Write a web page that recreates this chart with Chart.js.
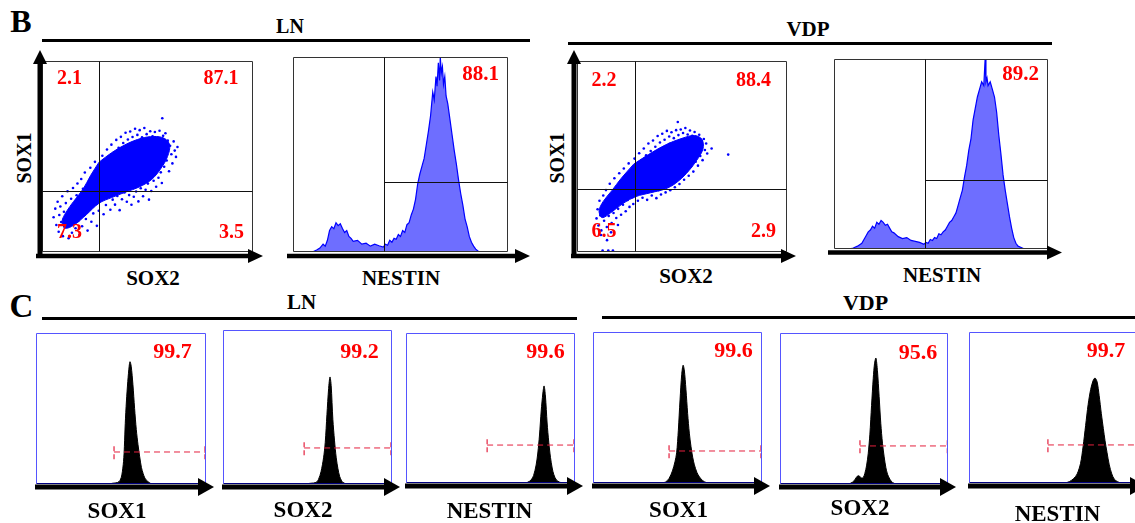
<!DOCTYPE html>
<html>
<head>
<meta charset="utf-8">
<title>SOX1 / SOX2 / NESTIN flow cytometry</title>
<script src="https://cdn.jsdelivr.net/npm/chart.js@4.4.1/dist/chart.umd.min.js"></script>
<style>
  body { margin: 0; width: 1135px; height: 523px; overflow: hidden; background: #fff; position: relative;
         font-family: "Liberation Serif", "Times New Roman", serif; }
  canvas { position: absolute; }
  .t { position: absolute; font-weight: bold; color: #000; transform: translate(-50%, -50%); white-space: nowrap; line-height: 1; }
  .v { transform: translate(-50%, -50%) rotate(-90deg); }
  .rule { position: absolute; height: 3px; background: #000; }
</style>
</head>
<body>
<div class="t" style="left:21px;top:21px;font-size:32px">B</div>
<div class="t" style="left:290px;top:25.5px;font-size:20px">LN</div>
<div class="t" style="left:808px;top:28.5px;font-size:21px">VDP</div>
<div class="rule" style="left:42px;top:39px;width:488px"></div>
<div class="rule" style="left:568px;top:41.5px;width:484px"></div>
<div class="t v" style="left:24px;top:158px;font-size:20px">SOX1</div>
<div class="t" style="left:153px;top:277.5px;font-size:21px">SOX2</div>
<div class="t" style="left:401px;top:277.5px;font-size:21px">NESTIN</div>
<div class="t v" style="left:556.5px;top:157.5px;font-size:20px">SOX1</div>
<div class="t" style="left:686px;top:276px;font-size:21px">SOX2</div>
<div class="t" style="left:942px;top:274.5px;font-size:21px">NESTIN</div>
<div class="t" style="left:21.5px;top:306px;font-size:33px">C</div>
<div class="t" style="left:301.5px;top:302px;font-size:21px">LN</div>
<div class="t" style="left:865.5px;top:302.5px;font-size:22px">VDP</div>
<div class="rule" style="left:42px;top:316.5px;width:535px"></div>
<div class="rule" style="left:602px;top:315.5px;width:533px"></div>

<script>
// ---------- data (display units 0-100 on both axes of every plot) ----------

// quadrant percentages, order: UL, UR, LL, LR
var lnQuad = ['2.1', '87.1', '7.3', '3.5'];
var vdpQuad = ['2.2', '88.4', '6.5', '2.9'];
var lnNestinPct = '88.1';
var vdpNestinPct = '89.2';

// SOX2 (x) vs SOX1 (y) dot plots: outline of the dense core, then loose events
var lnCore = [[27,47],[33,52],[40,56.5],[47,59.5],[53,60.5],[58,59.5],[60.5,56],[59.5,50],[56.5,44],[52,38],
              [46,34],[40,31.5],[33,28.5],[27,25.5],[21,19.5],[15,14],[11,12.5],[9.5,16],[11.5,21],[15,26.5],
              [19.5,33],[23,40]];
var lnDots = [
  [5.5,18.2],[6.3,22.7],[6.8,14.1],[7.4,26.3],[7.9,10.6],[8.2,19.4],[8.7,23.8],[9.1,15.7],[9.6,29.2],[9.9,8.3],
  [10.4,21.1],[10.8,12.9],[11.3,25.6],[11.7,17.4],[12.1,31.8],[12.6,7.2],[12.9,20.3],[13.4,14.6],[13.8,27.9],
  [14.2,10.1],[14.7,33.5],[15.1,18.8],[15.5,23.1],[15.9,12.4],[16.4,29.7],[16.8,35.9],[17.2,16.2],[17.7,8.9],
  [18.1,26.4],[18.6,38.2],[19.0,13.5],[19.4,33.1],[19.9,21.7],[20.3,41.6],[20.8,17.3],[21.2,28.8],[21.6,11.2],
  [22.1,36.4],[22.5,23.9],[22.9,44.1],[23.4,15.8],[23.8,31.5],[24.3,20.2],[24.7,39.6],[25.1,47.2],[25.6,25.4],
  [26.0,13.7],[26.5,34.8],[26.9,21.6],[27.3,43.2],
  [28.1,27.3],[28.6,50.4],[29.2,19.8],[29.7,46.1],[30.3,24.6],[30.8,53.7],[31.2,29.9],[31.9,48.8],[32.4,22.1],
  [32.9,56.2],[33.5,27.4],[34.1,51.9],[34.6,24.8],[35.2,58.7],[35.7,29.3],[36.3,54.6],[36.8,21.9],[37.4,60.3],
  [37.9,27.6],[38.5,57.1],[39.1,31.2],[39.6,62.4],[40.2,26.3],[40.7,58.9],[41.3,29.8],[41.8,63.1],[42.4,24.7],
  [42.9,60.2],[43.5,28.9],[44.1,64.5],[44.6,31.7],[45.2,61.3],[45.7,26.5],[46.3,63.8],[46.8,33.4],[47.4,60.1],
  [47.9,29.2],[48.5,64.9],[49.1,32.6],[49.6,61.7],[50.2,35.8],[50.7,27.4],[51.3,63.2],[51.8,31.9],[52.4,60.6],
  [52.9,37.3],[53.5,62.8],[54.1,34.2],[54.6,59.4],[55.2,38.9],[55.7,63.5],[56.3,41.7],[56.8,36.1],[57.4,60.8],
  [57.9,44.6],[58.5,62.2],[59.1,47.9],[59.6,58.3],[60.2,42.3],[60.7,55.6],[61.3,51.2],[61.8,46.4],[62.4,57.9],
  [62.9,53.1],[63.5,49.8],[57.0,70.0],[64.2,55.0],
  [30.5,35.2],[33.2,39.8],[36.1,33.9],[38.8,45.3],[41.5,37.4],[44.3,50.1],[47.2,41.8],[50.6,47.3],[53.4,52.6],
  [56.1,55.2],[25.3,31.9],[22.6,27.1],[19.8,24.3],[17.1,20.6],[14.5,17.9],[31.7,42.6],[35.4,47.8],[39.3,52.4],
  [43.8,56.3],[48.1,58.7],[52.7,45.1],[46.4,38.2],[41.2,33.1],[36.6,31.4],[30.1,31.2]];

var vdpCore = [[27,46],[34,51],[42,56],[50,59.5],[56,61],[59.5,59],[60,54],[57,48],[52,41],[47,36],[42,33],
               [35,31],[28,29],[22,25.5],[16,20.5],[12,18],[10.5,21.5],[12.5,26.5],[16.5,32],[21,38.5]];
var vdpDots = [
  [9.3,17.6],[9.8,22.4],[10.2,13.9],[10.7,26.8],[11.1,19.2],[11.6,11.3],[12.0,24.1],[12.5,29.6],[12.9,16.4],
  [13.3,21.7],[13.8,32.4],[14.2,13.1],[14.7,26.2],[15.1,18.9],[15.6,35.7],[16.0,23.3],[16.5,15.2],[16.9,30.1],
  [17.4,20.4],[17.8,38.6],[18.3,26.9],[18.7,17.8],[19.2,33.7],[19.6,22.6],[20.1,41.2],[20.5,29.4],[21.0,19.5],
  [21.4,36.3],[21.9,24.8],[22.3,43.7],[22.8,31.6],[23.2,21.3],[23.7,39.1],[24.1,27.2],[24.6,46.4],[25.0,23.6],
  [25.5,35.4],[25.9,42.8],[26.4,28.7],[26.8,25.1],[12.2,0.8],[14.9,0.8],[17.1,0.8],[14.3,6.2],[11.4,8.9],
  [16.2,10.3],[19.5,14.1],
  [27.4,48.9],[27.9,30.2],[28.5,45.1],[29.0,26.8],[29.6,51.7],[30.1,33.5],[30.7,47.9],[31.2,28.4],[31.8,54.2],
  [32.3,31.1],[32.9,50.6],[33.4,27.3],[34.0,56.8],[34.5,32.7],[35.1,52.9],[35.6,29.6],[36.2,58.4],[36.7,33.8],
  [37.3,55.1],[37.8,28.2],[38.4,60.7],[38.9,32.4],[39.5,57.3],[40.0,30.1],[40.6,61.9],[41.1,34.6],[41.7,58.8],
  [42.2,31.2],[42.8,63.4],[43.3,35.7],[43.9,60.5],[44.4,32.3],[45.0,62.7],[45.5,37.1],[46.1,59.6],[46.6,33.9],
  [47.2,63.8],[47.7,38.4],[48.3,61.2],[48.0,68.1],[48.8,35.6],[49.4,64.1],[49.9,40.2],[50.5,62.3],[51.0,37.8],
  [51.6,64.9],[52.1,42.6],[52.7,61.5],[53.2,39.9],[53.8,63.6],[54.3,44.8],[54.9,60.9],[55.4,42.1],[56.0,62.8],
  [56.5,47.3],[57.1,59.7],[57.6,45.2],[58.2,61.4],[58.7,50.3],[59.3,57.6],[59.8,48.1],[60.4,59.2],[60.9,53.4],
  [61.5,56.8],[62.0,51.6],[64.1,54.2],[72.0,51.0],
  [30.4,36.8],[33.6,40.3],[36.3,37.2],[39.1,46.4],[42.0,39.5],[44.7,50.7],[47.6,44.1],[50.8,49.2],[53.6,53.8],
  [56.2,56.4],[24.8,32.6],[21.7,29.3],[18.9,26.1],[16.4,22.8],[31.8,43.9],[35.7,48.2],[39.6,52.9],[44.1,56.7],
  [48.5,58.2],[52.4,46.8],[46.2,40.3],[41.3,35.2],[37.2,33.6],[29.4,32.8]];

// NESTIN histograms (blue)
var lnNestinX = [9,11,12.5,14,15,16,17,18,19,20,21,22,23,24,25,26,27,28,30,32,34,36,38,40,42,43,44,45,46,47,
  48,49,50,51,52,53,54,55,56,57,58,59,60,61,62,63,64,65,65.7,66.5,67,67.6,68.2,68.5,69,69.5,70,70.6,71.2,72,
  73,74,75,76,77,78,79,80,81,82,83,84,85,86,87];
var lnNestinY = [0,1,2,4,3,6,11,13,12,15,13.5,14.5,12,10,11,8,7,5.5,6,4,4.5,3,4,3.2,2.5,4,3.5,6,5,7,
  6.5,9,8,11,10,14,15,19,22,27,35,40,44,48,55,62,70,82,78,90,85,97,88,100,92,95,86,90,80,76,
  68,60,52,45,37,30,24,17,13,8,5,3,1.5,0.5,0];
var vdpNestinX = [7,9,11,13,14,15,16,17,18,19,20,21,22,23,24,25,26,27,28,30,32,34,36,38,40,42,43,44,45,46,
  47,48,49,50,51,52,53,54,55,56,57,58,59,60,61,62,63,64,65,66,67,68,69,70,70.6,71,71.5,72,73,74,
  75,76,77,78,79,80,81,82,83,84,85,86,88,89];
var vdpNestinY = [0,0.5,1.5,3,5,7,9,10,12,11,14,13,15,14,12.5,13,11,9,8.5,6.5,5.5,6,4.5,4,3.5,2.5,3.5,3,5,4.5,
  6,5.5,8,7.5,9,10,12,14,15,17,19,23,27,31,38,44,52,58,68,74,80,84,88,86,99.5,88,90,86,88,84,
  80,72,60,50,39,31,24,17,11,6,3,1.5,0.5,0];

// panel C single-marker histograms (black): LN SOX1, SOX2, NESTIN, VDP SOX1, SOX2, NESTIN
var cMarkers = ['SOX1', 'SOX2', 'NESTIN', 'SOX1', 'SOX2', 'NESTIN'];
var cPct = ['99.7', '99.2', '99.6', '99.6', '95.6', '99.7'];
var cX = [
  [43,45,48,49.5,50.5,51.5,52,52.5,53.2,54,54.8,55.3,56,57,58,59,60,61,62,63,64,65,66.5,68],
  [48,52,55,56.5,58,59.5,60.5,61.5,62.5,63.3,64,65,66,67,68,69,70,71,73],
  [70,72,74,75.5,77,78,79,80,81,81.7,82.5,83.5,84.5,85.5,86.5,87.5,89,91,93],
  [41,43,45,47,48.5,49.5,50.5,51.5,52.5,53.3,54,55,56,57,58,59,60,61.5,63,65,67,69],
  [40,42,44,45.5,46.5,47.5,48.5,49.5,50.5,51.5,52.5,53.5,54.5,55.5,56.3,57.1,58,59,60,61,62,63,64,65.5,67,69],
  [57,59.5,62,64,66,67.5,69,70.5,72,73.5,74.6,75.8,77,78.3,79.5,80.5,81.7,83,84.5,86,88,90]
];
var cY = [
  [0,0.5,1,2.5,6,15,25,40,55,68,78,81,78,66,50,36,26,18,11,7,4,2.5,1,0],
  [0,0.5,1,3,8,17,27,45,62,69.5,64,42,28,17,10,5,2.5,1,0],
  [0,0.5,2,5,12,20,32,48,60,64.7,58,40,27,17,10,5.5,2,0.5,0],
  [0,0.7,3,8,14,20,35,55,72,78,75,62,46,33,24,17,12,7,4,1.5,0.3,0],
  [0,0.5,2,4.5,5.5,5,4,4.2,7,12,20,33,52,70,80,83.4,75,58,40,27,18,11,6.5,3,1,0],
  [0,1,3,6,13,24,38,52,62,68,69.5,67,58,46,36,28,20,12,6,2.5,0.8,0]
];
// positive gates (dashed red markers)
var cGateY = [21.2, 23.4, 25.3, 21.2, 25.2, 25.2];
var cGateFrom = [45.9, 48, 48, 45, 47.6, 46.7];
var cGateTo = [99.4, 99.4, 99.4, 99.4, 99.6, 115];

// ---------- layout ----------
var PAD = {l: 15, t: 15, r: 30, b: 14};
var boxB = [
  {l: 42, t: 61, w: 211, h: 191},
  {l: 293, t: 57, w: 215, h: 195},
  {l: 577, t: 61, w: 210, h: 191},
  {l: 834, t: 59, w: 214, h: 190}
];
var boxC = [
  {l: 36, t: 333, w: 170, h: 151},
  {l: 223, t: 330, w: 169, h: 154},
  {l: 406, t: 333, w: 169, h: 150},
  {l: 593, t: 332, w: 169, h: 151},
  {l: 780, t: 333, w: 168, h: 151},
  {l: 969, t: 332, w: 169, h: 151}
];
var cPctPos = [[136.5,19.5],[136.5,22.5],[139.5,19.5],[140.5,19],[138,20.5],[137,19.5]];
var cLabelPos = [[117,509.5],[303,508.5],[489.5,510],[678.5,508.5],[860,506.5],[1057.5,512.5]];

var decorFor = new Map();

function pts(xs, ys) {
  return xs.map(function (x, i) { return {x: x, y: ys[i]}; });
}
function pairs(list) {
  return list.map(function (p) { return {x: p[0], y: p[1]}; });
}

function arrow(ctx, x0, y0, x1, y1, lw, head, half) {
  var dx = x1 - x0, dy = y1 - y0, len = Math.hypot(dx, dy), ux = dx / len, uy = dy / len;
  var bx = x1 - ux * head, by = y1 - uy * head;
  ctx.lineWidth = lw;
  ctx.strokeStyle = '#000';
  ctx.fillStyle = '#000';
  ctx.beginPath(); ctx.moveTo(x0, y0); ctx.lineTo(bx + ux, by + uy); ctx.stroke();
  ctx.beginPath();
  ctx.moveTo(x1, y1);
  ctx.lineTo(bx - uy * half, by + ux * half);
  ctx.lineTo(bx + uy * half, by - ux * half);
  ctx.closePath(); ctx.fill();
}

var decor = {
  id: 'decor',
  afterDatasetsDraw: function (chart) {
    var o = decorFor.get(chart.canvas);
    if (!o) return;
    var ctx = chart.ctx, a = chart.chartArea, sx = chart.scales.x, sy = chart.scales.y;
    var L = Math.round(a.left) + 0.5, T = Math.round(a.top) + 0.5;
    var R = Math.round(a.right) - 0.5, B = Math.round(a.bottom) - 0.5;
    ctx.save();
    ctx.lineWidth = 1;
    ctx.strokeStyle = o.frame;
    ctx.beginPath();
    ctx.moveTo(L, B); ctx.lineTo(L, T); ctx.lineTo(R, T); ctx.lineTo(R, B);
    ctx.stroke();
    ctx.strokeStyle = o.frameBottom || o.frame;
    ctx.beginPath(); ctx.moveTo(L, B); ctx.lineTo(R, B); ctx.stroke();

    ctx.strokeStyle = '#111';
    if (o.quad) {
      var qx = Math.round(sx.getPixelForValue(o.quad[0])) + 0.5;
      var qy = Math.round(sy.getPixelForValue(o.quad[1])) + 0.5;
      ctx.beginPath();
      ctx.moveTo(qx, T); ctx.lineTo(qx, B);
      ctx.moveTo(o.halfCross ? qx : L, qy); ctx.lineTo(R, qy);
      ctx.stroke();
    }

    ctx.fillStyle = '#ff0000';
    ctx.textAlign = 'center';
    ctx.textBaseline = 'middle';
    o.texts.forEach(function (t) {
      ctx.font = 'bold ' + t.size + 'px "Liberation Serif"';
      ctx.fillText(t.s, a.left + t.dx, a.top + t.dy);
    });

    o.arrows.forEach(function (r) {
      arrow(ctx, a.left + r[0], a.top + r[1], a.left + r[2], a.top + r[3], r[4], r[5], r[6]);
    });
    ctx.restore();
  }
};
Chart.register(decor);

function place(box) {
  var c = document.createElement('canvas');
  c.width = box.w + PAD.l + PAD.r;
  c.height = box.h + PAD.t + PAD.b;
  c.style.left = (box.l - PAD.l) + 'px';
  c.style.top = (box.t - PAD.t) + 'px';
  document.body.appendChild(c);
  return c;
}

function baseOptions() {
  return {
    responsive: false,
    animation: false,
    events: [],
    layout: {padding: {left: PAD.l, top: PAD.t, right: PAD.r, bottom: PAD.b}},
    scales: {
      x: {type: 'linear', min: 0, max: 100, display: false},
      y: {type: 'linear', min: 0, max: 100, display: false}
    },
    plugins: {legend: {display: false}, tooltip: {enabled: false}}
  };
}

function dotPlot(box, core, dots, quad, quadText, textPos, yAxisX, xTip) {
  var cv = place(box);
  decorFor.set(cv, {
    frame: '#333', quad: quad,
    texts: quadText.map(function (s, i) { return {s: s, dx: textPos[i][0], dy: textPos[i][1], size: 20}; }),
    arrows: [
      [yAxisX, box.h + 4, yAxisX, -11, 5, 14, 7],
      [-6, box.h + 4, box.w + xTip, box.h + 4, 4.5, 15, 7]
    ]
  });
  new Chart(cv, {
    type: 'scatter',
    data: {datasets: [
      {data: pairs(dots), pointRadius: 1.3, pointBorderWidth: 0, pointBackgroundColor: '#0000ff', order: 0},
      {type: 'line', data: pairs(core.concat([core[0]])), fill: 'shape', backgroundColor: '#0000ff',
       borderColor: '#0000ff', borderWidth: 1, pointRadius: 0, tension: 0.35, order: 1}
    ]},
    options: baseOptions()
  });
}

function nestinPlot(box, xs, ys, split, pct, pctPos, axisY, xTip) {
  var cv = place(box);
  decorFor.set(cv, {
    frame: '#333', quad: split, halfCross: true,
    texts: [{s: pct, dx: pctPos[0], dy: pctPos[1], size: 21}],
    arrows: [[-6, box.h + axisY, box.w + xTip, box.h + axisY, 4.5, 15, 7]]
  });
  new Chart(cv, {
    type: 'line',
    data: {datasets: [
      {data: pts(xs, ys), fill: 'origin', backgroundColor: 'rgb(110,110,255)', borderColor: '#0000ff',
       borderWidth: 1.2, pointRadius: 0, tension: 0}
    ]},
    options: baseOptions()
  });
}

function markerPlot(i) {
  var box = boxC[i];
  var cv = place(box);
  decorFor.set(cv, {
    frame: '#5555ff', frameBottom: '#000080',
    texts: [{s: cPct[i], dx: cPctPos[i][0], dy: cPctPos[i][1], size: 22}],
    arrows: [[-1, box.h + 3, box.w + 8, box.h + 3, 5, 16, 9]]
  });
  var g = cGateY[i], gate = 'rgb(228,32,62)';
  new Chart(cv, {
    type: 'line',
    data: {datasets: [
      {data: [{x: cGateFrom[i], y: g}, {x: cGateTo[i], y: g}], borderColor: gate, borderWidth: 1,
       borderDash: [6, 4], pointRadius: 0, fill: false, order: 0},
      {data: [{x: cGateFrom[i], y: g - 4.8}, {x: cGateFrom[i], y: g + 4.8}], borderColor: gate, borderWidth: 1.2,
       borderDash: [5, 3], pointRadius: 0, fill: false, order: 0},
      {data: [{x: cGateTo[i], y: g - 4.8}, {x: cGateTo[i], y: g + 4.8}], borderColor: gate, borderWidth: 1.2,
       borderDash: [5, 3], pointRadius: 0, fill: false, order: 0},
      {data: pts(cX[i], cY[i]), fill: 'origin', backgroundColor: '#000', borderColor: '#000',
       borderWidth: 1, pointRadius: 0, tension: 0.3, order: 1}
    ]},
    options: baseOptions()
  });
  var lab = document.createElement('div');
  lab.className = 't';
  lab.style.left = cLabelPos[i][0] + 'px';
  lab.style.top = cLabelPos[i][1] + 'px';
  lab.style.fontSize = '23px';
  lab.textContent = cMarkers[i];
  document.body.appendChild(lab);
}

dotPlot(boxB[0], lnCore, lnDots, [27, 32], lnQuad,
        [[27.5, 17.5], [179, 17.5], [27.5, 172], [189.5, 172]], -2, 10);
nestinPlot(boxB[1], lnNestinX, lnNestinY, [42.3, 36], lnNestinPct, [187.5, 17.5], 4, 22);
dotPlot(boxB[2], vdpCore, vdpDots, [27.6, 33], vdpQuad,
        [[27, 19.5], [176.5, 19.5], [27, 170.5], [186.5, 170.5]], -3, 9);
nestinPlot(boxB[3], vdpNestinX, vdpNestinY, [42.5, 36.3], vdpNestinPct, [186.5, 16], 3.5, 14);
for (var i = 0; i < 6; i++) markerPlot(i);
</script>
</body>
</html>
